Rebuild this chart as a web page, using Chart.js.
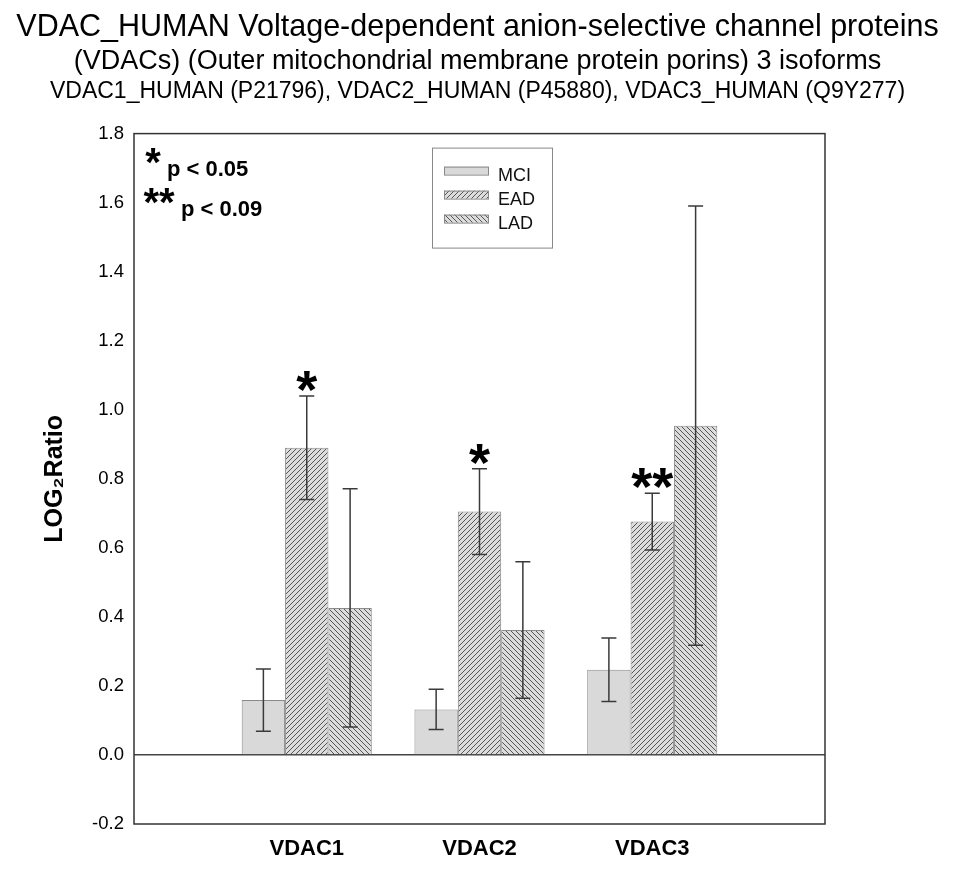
<!DOCTYPE html>
<html>
<head>
<meta charset="utf-8">
<script src="https://cdn.jsdelivr.net/npm/chart.js@4.4.0/dist/chart.umd.min.js"></script>
<style>
  body { margin: 0; background: #fff; }
</style>
</head>
<body>
<canvas id="vdacChart" width="955" height="878"></canvas>
<script>
// categories (empty slots at both ends give the wide margins of the original)
var categories = ['', 'VDAC1', 'VDAC2', 'VDAC3', '']
var seriesNames = ['MCI', 'EAD', 'LAD']

// LOG2 ratio values and their error bars
var mciValues = [null, 0.159, 0.132, 0.247, null]
var mciErrors = [null, 0.090, 0.058, 0.092, null]
var eadValues = [null, 0.890, 0.705, 0.676, null]
var eadErrors = [null, 0.150, 0.124, 0.082, null]
var ladValues = [null, 0.426, 0.362, 0.954, null]
var ladErrors = [null, 0.345, 0.198, 0.636, null]

// significance marks sit above the EAD bars
var sigMarks = [null, '*', '*', '**', null]

var yTicks = [-0.2, 0.0, 0.2, 0.4, 0.6, 0.8, 1.0, 1.2, 1.4, 1.6, 1.8]

var FONT = "'Liberation Sans', Arial, sans-serif"

var canvas = document.getElementById('vdacChart')
var ctx = canvas.getContext('2d')

// hatch fills for EAD (////) and LAD (\\\\)
function makeHatch(dir) {
    var size = 5
    var c = document.createElement('canvas')
    c.width = size
    c.height = size
    var g = c.getContext('2d')
    g.fillStyle = '#dcdcdc'
    g.fillRect(0, 0, size, size)
    g.strokeStyle = '#555'
    g.lineWidth = 1
    g.beginPath()
    if (dir == 'fwd') {
        g.moveTo(0, size); g.lineTo(size, 0)
        g.moveTo(-1, 1); g.lineTo(1, -1)
        g.moveTo(size - 1, size + 1); g.lineTo(size + 1, size - 1)
    } else {
        g.moveTo(0, 0); g.lineTo(size, size)
        g.moveTo(size - 1, -1); g.lineTo(size + 1, 1)
        g.moveTo(-1, size - 1); g.lineTo(1, size + 1)
    }
    g.stroke()
    return ctx.createPattern(c, 'repeat')
}

var fills = ['#d9d9d9', makeHatch('fwd'), makeHatch('back')]
var errors = [mciErrors, eadErrors, ladErrors]

// error bars, drawn from the data through the y scale
var errorBars = {
    id: 'errorBars',
    afterDatasetsDraw: function(chart) {
        var c = chart.ctx
        var y = chart.scales.y
        c.save()
        c.strokeStyle = '#3a3a3a'
        c.lineWidth = 1.5
        chart.data.datasets.forEach(function(ds, i) {
            var meta = chart.getDatasetMeta(i)
            ds.data.forEach(function(v, j) {
                if (v == null) return
                var e = errors[i][j]
                var x = meta.data[j].x
                var top = y.getPixelForValue(v + e)
                var bot = y.getPixelForValue(v - e)
                c.beginPath()
                c.moveTo(x, top); c.lineTo(x, bot)
                c.moveTo(x - 7.5, top); c.lineTo(x + 7.5, top)
                c.moveTo(x - 7.5, bot); c.lineTo(x + 7.5, bot)
                c.stroke()
            })
        })
        // asterisks above EAD error bars
        var eadMeta = chart.getDatasetMeta(1)
        c.fillStyle = '#000'
        c.font = 'bold 54px ' + FONT
        c.textAlign = 'center'
        c.textBaseline = 'alphabetic'
        sigMarks.forEach(function(m, j) {
            if (!m) return
            var top = y.getPixelForValue(eadValues[j] + eadErrors[j])
            c.fillText(m, eadMeta.data[j].x, top + 12)
        })
        c.restore()
    }
}

// frame, legend box, p-value note and third title line
var decorations = {
    id: 'decorations',
    afterDraw: function(chart) {
        var c = chart.ctx
        var a = chart.chartArea
        c.save()
        c.strokeStyle = '#333'
        c.lineWidth = 1.5
        c.strokeRect(a.left, a.top, a.right - a.left, a.bottom - a.top)

        // p-value note
        c.fillStyle = '#000'
        c.textAlign = 'center'
        c.textBaseline = 'alphabetic'
        c.font = 'bold 40px ' + FONT
        c.fillText('*', a.left + 19, a.top + 42)
        c.fillText('**', a.left + 25, a.top + 82)
        c.textAlign = 'left'
        c.font = 'bold 22px ' + FONT
        c.fillText('p < 0.05', a.left + 33, a.top + 42)
        c.fillText('p < 0.09', a.left + 47, a.top + 82)

        // legend box
        var bx = a.left + 298, by = a.top + 14
        c.strokeStyle = '#888'
        c.lineWidth = 1
        c.strokeRect(bx + 0.5, by + 0.5, 120, 100)
        c.font = '18px ' + FONT
        seriesNames.forEach(function(name, i) {
            var cy = by + 23 + i * 24
            c.fillStyle = fills[i]
            c.fillRect(bx + 12, cy - 4, 44, 8)
            c.strokeStyle = '#888'
            c.strokeRect(bx + 12.5, cy - 3.5, 44, 8)
            c.fillStyle = '#111'
            c.fillText(name, bx + 66, cy + 10)
        })

        // third title line
        c.textAlign = 'center'
        c.font = '23px ' + FONT
        c.fillStyle = '#000'
        c.fillText('VDAC1_HUMAN (P21796), VDAC2_HUMAN (P45880), VDAC3_HUMAN (Q9Y277)', chart.width / 2, 98)
        c.restore()
    }
}

var datasets = [mciValues, eadValues, ladValues].map(function(vals, i) {
    return {
        label: seriesNames[i],
        data: vals,
        backgroundColor: fills[i],
        borderColor: '#8a8a8a',
        borderWidth: 1,
        categoryPercentage: 0.753,
        barPercentage: 1.0
    }
})

var vdacChart = new Chart(canvas, {
    type: 'bar',
    data: { labels: categories, datasets: datasets },
    plugins: [errorBars, decorations],
    options: {
        responsive: false,
        animation: false,
        layout: { padding: 0 },
        plugins: {
            legend: { display: false },
            tooltip: { enabled: false },
            title: {
                display: true,
                text: 'VDAC_HUMAN Voltage-dependent anion-selective channel proteins',
                color: '#000',
                font: { family: FONT, size: 30.5, weight: 'normal', lineHeight: 1.2 },
                padding: { top: 9, bottom: 0 }
            },
            subtitle: {
                display: true,
                text: '(VDACs) (Outer mitochondrial membrane protein porins) 3 isoforms',
                color: '#000',
                font: { family: FONT, size: 27, weight: 'normal', lineHeight: 1.2 },
                padding: { top: 0, bottom: 55.6 }
            }
        },
        scales: {
            x: {
                offset: false,
                grid: { display: false, drawTicks: false },
                border: { display: false },
                ticks: {
                    color: '#000',
                    padding: 12,
                    maxRotation: 0,
                    autoSkip: false,
                    font: { family: FONT, size: 22, weight: 'bold' }
                },
                afterFit: function(s) { s.height = 54 }
            },
            y: {
                min: -0.2,
                max: 1.8,
                afterBuildTicks: function(s) {
                    s.ticks = yTicks.map(function(v) { return { value: v } })
                },
                grid: {
                    drawTicks: false,
                    lineWidth: 1.5,
                    color: function(c) { return c.tick && Math.abs(c.tick.value) < 1e-9 ? '#444' : 'rgba(0,0,0,0)' }
                },
                border: { display: false },
                ticks: {
                    color: '#000',
                    padding: 10,
                    font: { family: FONT, size: 18.5 },
                    callback: function(v) { return Number(v).toFixed(1) }
                },
                title: {
                    display: true,
                    text: 'LOG₂Ratio',
                    color: '#000',
                    font: { family: FONT, size: 25, weight: 'bold' },
                    padding: { top: 40, bottom: 0 }
                },
                afterFit: function(s) { s.width = 134 }
            },
            spacer: {
                position: 'right',
                display: true,
                grid: { display: false, drawTicks: false },
                border: { display: false },
                ticks: { display: false },
                afterFit: function(s) { s.width = 130 }
            }
        }
    }
})
</script>
</body>
</html>
